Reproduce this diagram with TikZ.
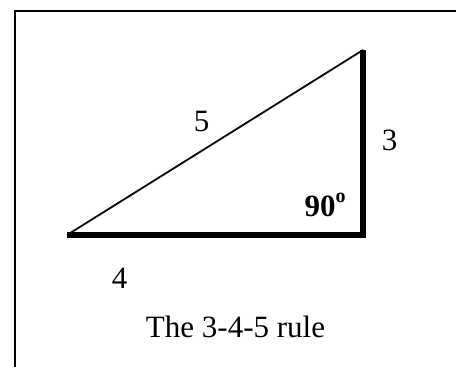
\documentclass[tikz,border=0pt]{standalone}
\usepackage{fontspec}
\setmainfont{Liberation Serif}
\usepackage{xcolor}
\usepackage{tikz}
\usetikzlibrary{positioning,calc}
\definecolor{cInk}{HTML}{000000}
\newcommand{\degsup}{\raisebox{0.42em}{\fontsize{10}{10}\selectfont o}}
\tikzset{
  frame/.style={draw=cInk,line width=1pt},
  leg/.style={draw=cInk,line width=2.8pt,line join=miter,line cap=butt},
  hyp/.style={draw=cInk,line width=0.9pt},
  lbl/.style={font=\fontsize{15.5}{18}\selectfont,text=cInk,inner sep=0pt,anchor=base},
}

\begin{document}
\begin{tikzpicture}[x=0.5pt,y=-0.5pt]
    \useasboundingbox (0,0) rectangle (456,366);
    % frame (only top and left edges show)
    \coordinate (fbl) at (15,370);
    \coordinate (ftl) at (15,11);
    \coordinate (ftr) at (460,11);
    \draw[frame] (fbl) -- (ftl) -- (ftr);
    % triangle
    \coordinate (pa) at (67,235);
    \coordinate (pb) at (363,235);
    \coordinate (pc) at (363,50);
    \draw[leg] (pa) -- (pb) -- (pc);
    \draw[hyp] (pa) -- (pc);
    % labels
    \node[lbl] (l5) at (201.5,131) {5};
    \node[lbl] (l3) at (389.5,150) {3};
    \node[lbl] (l4) at (119.5,288) {4};
    \node[lbl,font=\fontsize{15.5}{18}\selectfont\bfseries] (lang) at (325,216) {90\degsup};
    \node[lbl] (title) at (235.5,337) {The 3-4-5 rule};
  \end{tikzpicture}
\end{document}
